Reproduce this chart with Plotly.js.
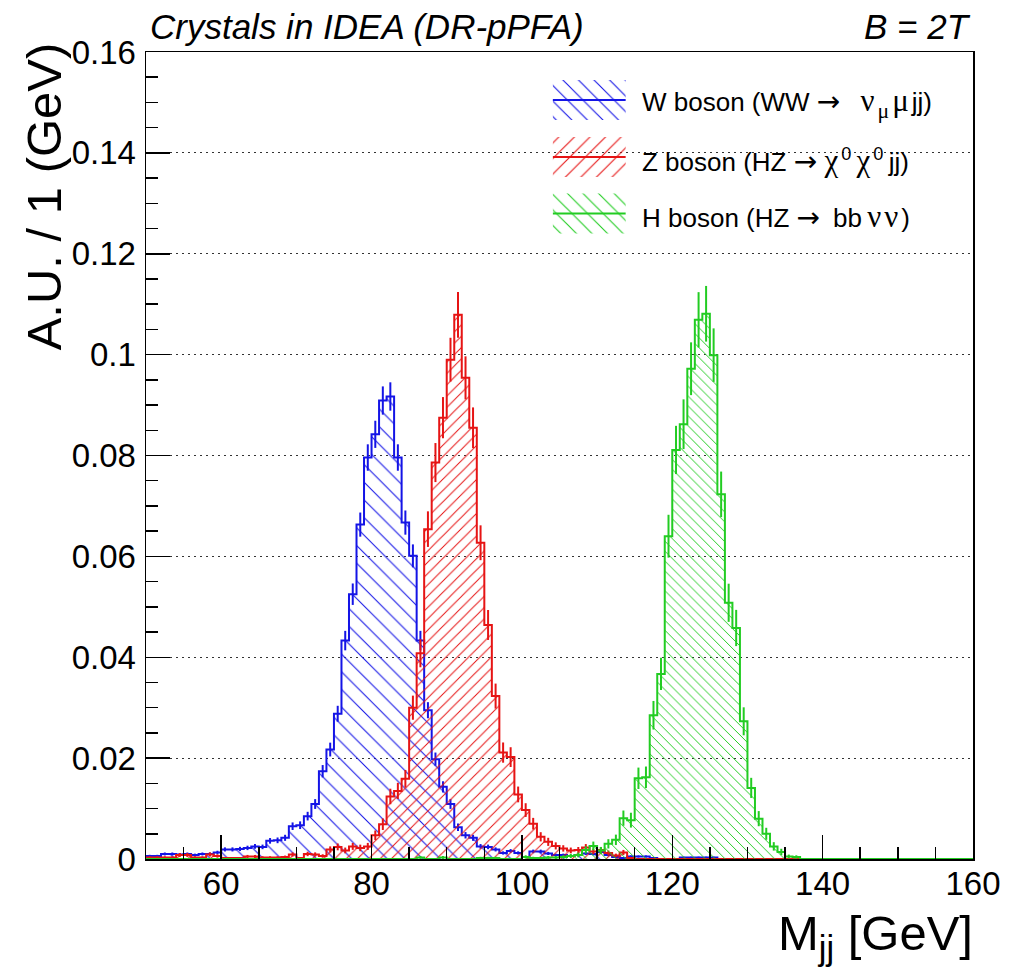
<!DOCTYPE html>
<html>
<head>
<meta charset="utf-8">
<script src="https://cdn.plot.ly/plotly-3.0.1.min.js"></script>
<style>
  html, body { margin: 0; padding: 0; background: #ffffff; }
  #chart { width: 1013px; height: 970px; }
</style>
</head>
<body>
<div id="chart"></div>
<script>
// Dijet invariant mass M_jj, 1 GeV bins from 50 to 160 GeV, unit-normalised
const binStart = 50;
const binWidth = 1;

// W boson (WW -> nu mu jj), bins 50..159
const wBoson = [
  0.0006, 0.0006, 0.0010, 0.0010, 0.0009, 0.0010, 0.0008, 0.0010, 0.0010, 0.0013,
  0.0019, 0.0019, 0.0020, 0.0022, 0.0025, 0.0024, 0.0036, 0.0037, 0.0042, 0.0065,
  0.0067, 0.0085, 0.0109, 0.0174, 0.0217, 0.0288, 0.0433, 0.0525, 0.0663, 0.0796,
  0.0842, 0.0909, 0.0917, 0.0796, 0.0667, 0.0601, 0.0433, 0.0295, 0.0198, 0.0143,
  0.0109, 0.0063, 0.0047, 0.0042, 0.0025, 0.0024, 0.0019, 0.0012, 0.0016, 0.0012,
  0.0004, 0.0015, 0.0015, 0.0011, 0.0008, 0.0008, 0.0006, 0.0008, 0.0011, 0.0010,
  0.0014, 0.0008, 0.0004, 0.0002, 0.0005, 0.0005, 0.0005, 0.0002, 0.0000, 0.0000,
  0.0000, 0.0003, 0.0003, 0.0003, 0.0003, 0.0003, 0.0000, 0.0000, 0.0000, 0.0000,
  0.0000, 0.0000, 0.0000, 0.0000, 0.0000, 0.0000, 0.0000, 0.0000, 0.0000, 0.0000,
  0.0000, 0.0000, 0.0000, 0.0000, 0.0000, 0.0000, 0.0000, 0.0000, 0.0000, 0.0000,
  0.0000, 0.0000, 0.0000, 0.0000, 0.0000, 0.0000, 0.0000, 0.0000, 0.0000, 0.0000
];

// Z boson (HZ -> chi0 chi0 jj), bins 50..159
const zBoson = [
  0.0003, 0.0003, 0.0003, 0.0003, 0.0008, 0.0008, 0.0003, 0.0003, 0.0009, 0.0006,
  0.0002, 0.0002, 0.0002, 0.0005, 0.0005, 0.0003, 0.0003, 0.0003, 0.0004, 0.0009,
  0.0002, 0.0010, 0.0009, 0.0006, 0.0019, 0.0024, 0.0017, 0.0025, 0.0022, 0.0025,
  0.0047, 0.0069, 0.0124, 0.0135, 0.0159, 0.0300, 0.0408, 0.0654, 0.0786, 0.0875,
  0.0990, 0.1079, 0.0954, 0.0855, 0.0627, 0.0464, 0.0323, 0.0211, 0.0202, 0.0128,
  0.0097, 0.0070, 0.0044, 0.0034, 0.0026, 0.0021, 0.0017, 0.0018, 0.0023, 0.0015,
  0.0018, 0.0012, 0.0007, 0.0013, 0.0002, 0.0000, 0.0000, 0.0000, 0.0000, 0.0000,
  0.0000, 0.0000, 0.0000, 0.0000, 0.0000, 0.0000, 0.0000, 0.0000, 0.0000, 0.0000,
  0.0000, 0.0000, 0.0000, 0.0000, 0.0000, 0.0000, 0.0000, 0.0000, 0.0000, 0.0000,
  0.0000, 0.0000, 0.0000, 0.0000, 0.0000, 0.0000, 0.0000, 0.0000, 0.0000, 0.0000,
  0.0000, 0.0000, 0.0000, 0.0000, 0.0000, 0.0000, 0.0000, 0.0000, 0.0000, 0.0000
];

// H boson (HZ -> bb nu nu), bins 50..159
const hBoson = [
  0.0000, 0.0000, 0.0000, 0.0000, 0.0000, 0.0000, 0.0000, 0.0000, 0.0000, 0.0000,
  0.0000, 0.0000, 0.0000, 0.0000, 0.0000, 0.0000, 0.0000, 0.0000, 0.0000, 0.0000,
  0.0000, 0.0000, 0.0000, 0.0000, 0.0000, 0.0000, 0.0000, 0.0000, 0.0000, 0.0000,
  0.0000, 0.0000, 0.0000, 0.0000, 0.0000, 0.0000, 0.0003, 0.0000, 0.0000, 0.0003,
  0.0000, 0.0000, 0.0000, 0.0000, 0.0002, 0.0002, 0.0002, 0.0000, 0.0000, 0.0000,
  0.0004, 0.0002, 0.0002, 0.0003, 0.0003, 0.0004, 0.0006, 0.0008, 0.0018, 0.0026,
  0.0017, 0.0030, 0.0038, 0.0081, 0.0077, 0.0160, 0.0162, 0.0285, 0.0367, 0.0640,
  0.0811, 0.0862, 0.0972, 0.1069, 0.1081, 0.0999, 0.0723, 0.0508, 0.0458, 0.0273,
  0.0141, 0.0080, 0.0050, 0.0025, 0.0014, 0.0005, 0.0004, 0.0000, 0.0000, 0.0000,
  0.0000, 0.0000, 0.0000, 0.0000, 0.0000, 0.0000, 0.0000, 0.0000, 0.0000, 0.0000,
  0.0000, 0.0000, 0.0000, 0.0000, 0.0000, 0.0000, 0.0000, 0.0000, 0.0000, 0.0000
];

// Effective number of unweighted entries per sample (sets the sqrt(N) error bars)
const sampleEntries = [11600, 5250, 3550];

// Greek letters are set in a wide serif face and the arrow in DejaVu, as ROOT's Symbol font does
const GREEK = 'font-family:\'Liberation Serif\',serif;font-size:31px;letter-spacing:3px';
const ARROW = 'font-family:\'DejaVu Sans\',sans-serif;font-size:28px';
const seriesLabels = [
  'W boson (WW <span style="' + ARROW + '">\u2192</span>\u2002\u00a0<span style="' + GREEK + '">\u03bd<sub>\u03bc</sub>\u03bc</span>jj)',
  'Z boson (HZ <span style="' + ARROW + '">\u2192</span> <span style="' + GREEK + '">\u03c7</span><sup>0</sup>\u2009<span style="' + GREEK + '">\u03c7</span><sup>0</sup>\u2009jj)',
  'H boson (HZ <span style="' + ARROW + '">\u2192</span>\u2002bb\u2009<span style="' + GREEK + '">\u03bd\u03bd</span>)'
];

const xTickVals = [60, 80, 100, 120, 140, 160];
const yTickVals = [0, 0.02, 0.04, 0.06, 0.08, 0.10, 0.12, 0.14, 0.16];
const yTickText = ['0', '0.02', '0.04', '0.06', '0.08', '0.1', '0.12', '0.14', '0.16'];

// ---- styling ----
const FONT = 'Liberation Sans, Arial, Helvetica, sans-serif';
const COLORS = ['#1414e6', '#e61414', '#22cc22'];
const HATCH = [
  { shape: '\\', size: 12.5, solidity: 0.085 },
  { shape: '/',  size: 8,    solidity: 0.125 },
  { shape: '\\', size: 7,    solidity: 0.14 }
];
const KEY_HATCH_SIZE = 11;

// Outline of a histogram drawn as a step line, closed down to zero at both ends
function stepTrace(vals, color, hatch) {
  const x = [binStart];
  const y = [0];
  vals.forEach((v, i) => { x.push(binStart + i * binWidth); y.push(v); });
  const end = binStart + vals.length * binWidth;
  x.push(end); y.push(vals[vals.length - 1]);
  x.push(end); y.push(0);
  return {
    type: 'scatter', mode: 'lines', x: x, y: y,
    line: { shape: 'hv', color: color, width: 2 },
    fill: 'tozeroy', fillcolor: 'rgba(0,0,0,0)',
    fillpattern: { shape: hatch.shape, fgcolor: color, bgcolor: 'rgba(0,0,0,0)',
                   size: hatch.size, solidity: hatch.solidity },
    hoverinfo: 'skip', showlegend: false, xaxis: 'x', yaxis: 'y'
  };
}

// Statistical error bars at bin centres
function errorTrace(vals, color, entries) {
  return {
    type: 'scatter', mode: 'markers',
    x: vals.map((_, i) => binStart + (i + 0.5) * binWidth),
    y: vals,
    marker: { size: 1, color: 'rgba(0,0,0,0)' },
    error_y: { type: 'data', array: vals.map(v => Math.sqrt(v / entries)),
               visible: true, color: color, thickness: 2, width: 0 },
    hoverinfo: 'skip', showlegend: false, xaxis: 'x', yaxis: 'y'
  };
}

const series = [wBoson, zBoson, hBoson];
const traces = [];
series.forEach((vals, k) => {
  traces.push(stepTrace(vals, COLORS[k], HATCH[k]));
  traces.push(errorTrace(vals, COLORS[k], sampleEntries[k]));
});

// Legend: hatched key boxes on an overlay axis spanning the frame (0..1 both ways)
const LEG_X0 = 0.492, LEG_X1 = 0.580, LEG_TEXT_X = 0.597;
const LEG_ROWS = [0.9405, 0.8699, 0.8000];
const LEG_TEXT_DY = -0.004;
const LEG_HALF_H = 0.0248;
const shapes = [];
const annotations = [];
LEG_ROWS.forEach((yc, k) => {
  traces.push({
    type: 'scatter', mode: 'lines',
    x: [LEG_X0, LEG_X1, LEG_X1, LEG_X0, LEG_X0],
    y: [yc - LEG_HALF_H, yc - LEG_HALF_H, yc + LEG_HALF_H, yc + LEG_HALF_H, yc - LEG_HALF_H],
    line: { width: 0, color: 'rgba(0,0,0,0)' },
    fill: 'toself', fillcolor: 'rgba(0,0,0,0)',
    fillpattern: { shape: HATCH[k].shape, fgcolor: COLORS[k], bgcolor: 'rgba(0,0,0,0)',
                   size: KEY_HATCH_SIZE, solidity: 0.1 },
    hoverinfo: 'skip', showlegend: false, xaxis: 'x2', yaxis: 'y2'
  });
  shapes.push({ type: 'line', xref: 'paper', yref: 'paper',
                x0: LEG_X0, x1: LEG_X1, y0: yc, y1: yc,
                line: { color: COLORS[k], width: 2 } });
  annotations.push({ xref: 'paper', yref: 'paper', x: LEG_TEXT_X, y: yc + LEG_TEXT_DY,
                     xanchor: 'left', yanchor: 'middle', showarrow: false,
                     text: seriesLabels[k], font: { family: FONT, size: 26, color: '#000' } });
});

// Axis titles and the field label
annotations.push({
  xref: 'paper', yref: 'paper', x: -0.124, y: 1.015, xanchor: 'center', yanchor: 'top',
  textangle: -90, showarrow: false, text: 'A.U. / 1 (GeV)',
  font: { family: FONT, size: 49, color: '#000' }
});
annotations.push({
  xref: 'paper', yref: 'paper', x: 1.003, y: -0.096, xanchor: 'right', yanchor: 'middle',
  showarrow: false, text: 'M<sub>jj</sub> [GeV]',
  font: { family: FONT, size: 49, color: '#000' }
});
annotations.push({
  xref: 'paper', yref: 'paper', x: 0.9995, y: 1.031, xanchor: 'right', yanchor: 'middle',
  showarrow: false, text: 'B = 2T',
  font: { family: FONT, size: 35, color: '#000', style: 'italic' }
});

const layout = {
  width: 1013, height: 970,
  margin: { l: 146, r: 40, t: 52, b: 111, pad: 0 },
  paper_bgcolor: '#ffffff', plot_bgcolor: '#ffffff',
  showlegend: false,
  title: {
    text: 'Crystals in IDEA (DR-pPFA)',
    x: 150 / 1013, xanchor: 'left', xref: 'container',
    y: 1 - 27 / 970, yanchor: 'middle', yref: 'container',
    font: { family: FONT, size: 35, color: '#000', style: 'italic' }
  },
  xaxis: {
    range: [50, 160], tickvals: xTickVals, ticks: 'inside', ticklen: 24, tickwidth: 1.5,
    tickcolor: '#000', showline: true, linecolor: '#000', linewidth: 1.5, mirror: true,
    showgrid: false, zeroline: false, ticklabelstandoff: -5,
    tickfont: { family: FONT, size: 33, color: '#000' },
    minor: { tick0: 50, dtick: 5, ticks: 'inside', ticklen: 12, tickwidth: 1.5, tickcolor: '#000', showgrid: false }
  },
  yaxis: {
    range: [0, 0.16], tickvals: yTickVals, ticktext: yTickText, ticks: 'inside', ticklen: 24,
    tickwidth: 1.5, tickcolor: '#000', showline: true, linecolor: '#000', linewidth: 1.5,
    mirror: true, showgrid: true, gridcolor: '#333333', gridwidth: 1, griddash: '2px,4px',
    zeroline: false, ticklabelstandoff: 2,
    tickfont: { family: FONT, size: 33, color: '#000' },
    minor: { tick0: 0, dtick: 0.005, ticks: 'inside', ticklen: 12, tickwidth: 1.5, tickcolor: '#000', showgrid: false }
  },
  xaxis2: { domain: [0, 1], range: [0, 1], anchor: 'y2', overlaying: 'x', visible: false, fixedrange: true },
  yaxis2: { domain: [0, 1], range: [0, 1], anchor: 'x2', overlaying: 'y', visible: false, fixedrange: true },
  shapes: shapes,
  annotations: annotations
};

Plotly.newPlot('chart', traces, layout, { staticPlot: true, displayModeBar: false });
</script>
</body>
</html>
